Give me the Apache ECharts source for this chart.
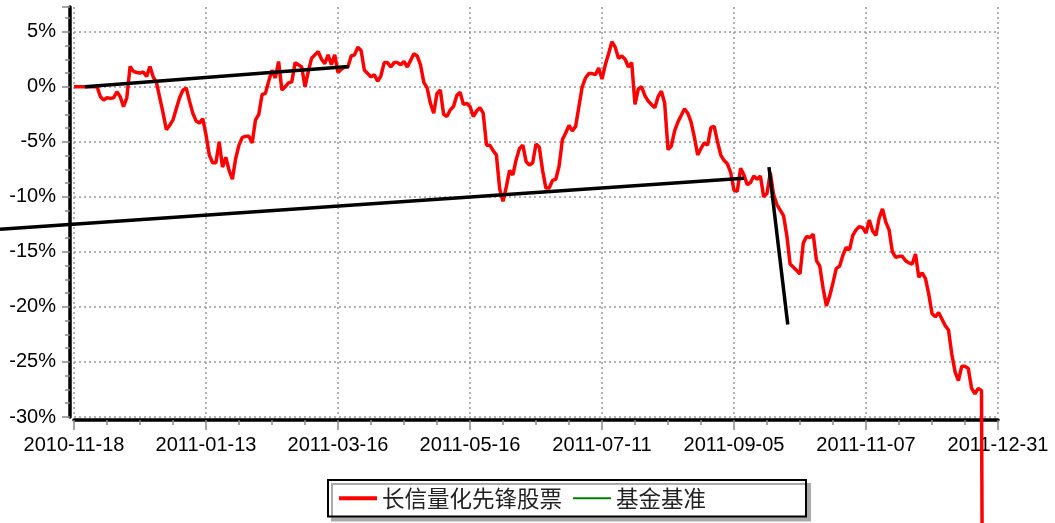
<!DOCTYPE html>
<html>
<head>
<meta charset="utf-8">
<script src="https://cdn.jsdelivr.net/npm/echarts@6/dist/echarts.min.js"></script>
<style>
  html, body { margin: 0; padding: 0; background: #fff; }
  #chart { width: 1055px; height: 523px; }
</style>
</head>
<body>
<div id="chart"></div>
<script>
// 横轴刻度（每 40 个交易日一个）
const tickStep = 40
const tickLabels = ['2010-11-18', '2011-01-13', '2011-03-16', '2011-05-16', '2011-07-11', '2011-09-05', '2011-11-07', '2011-12-31']

// 长信量化先锋股票 累计收益率（%），按交易日序号
const fundReturn = [
  0, 0, 0, 0, 0, 0, 0, 0, -0.9, -1.2,
  -1.0, -1.05, -1.0, -0.45, -0.9, -1.8, -1.0, 1.85, 1.4, 1.3,
  1.25, 1.35, 0.95, 1.85, 0.9, 0.35, -1.0, -2.4, -3.9, -3.5,
  -3.0, -2.0, -1.0, -0.3, -0.1, -1.3, -2.4, -3.1, -3.3, -2.9,
  -4.35, -6.2, -6.9, -6.9, -5.0, -7.3, -6.4, -7.6, -8.4, -6.5,
  -5.3, -4.6, -4.5, -4.5, -5.1, -3.0, -2.5, -0.7, -0.6, 0.5,
  1.5, 0.8, 2.3, -0.3, 0.0, 0.35, 0.45, 2.2, 2.0, 1.8,
  0.0, 1.4, 2.6, 2.9, 3.2, 2.5, 2.1, 2.9, 2.0, 2.9,
  1.3, 1.6, 1.8, 1.8, 2.8, 2.9, 3.6, 3.3, 1.5, 1.2,
  0.9, 1.1, 0.5, 1.0, 2.2, 2.2, 1.8, 2.2, 2.2, 2.0,
  2.3, 1.8, 2.4, 3.0, 2.8, 2.0, 0.4, -0.1, -1.5, -2.4,
  -0.6, -0.3, -2.5, -2.7, -2.1, -1.8, -0.8, -0.5, -1.6, -1.5,
  -1.8, -2.7, -2.2, -1.9, -2.4, -5.3, -5.3, -5.8, -6.2, -9.3,
  -10.4, -9.1, -7.6, -8.0, -6.6, -5.6, -5.3, -6.8, -7.1, -6.9,
  -5.2, -5.5, -7.6, -9.2, -9.2, -8.5, -8.4, -7.2, -4.8, -4.2,
  -3.5, -4.0, -3.6, -1.8, 0.0, 0.8, 1.2, 1.2, 1.1, 1.7,
  0.7, 2.0, 3.0, 4.1, 3.6, 2.6, 2.8, 2.5, 1.8, 2.2,
  -1.6, -0.2, 0.0, -0.8, -1.3, -1.6, -1.9, -0.9, -0.4, -1.5,
  -5.7, -5.4, -4.0, -3.2, -2.6, -2.0, -2.4, -3.2, -4.6, -6.2,
  -5.6, -5.1, -5.3, -3.7, -3.6, -5.0, -6.2, -6.7, -7.0, -7.8,
  -9.4, -9.5, -7.4, -8.0, -8.9, -8.7, -8.1, -8.4, -8.1, -10.0,
  -9.7, -7.8, -9.8, -10.7, -11.2, -11.7, -13.5, -16.1, -16.4, -16.7,
  -17.0, -14.2, -13.6, -13.7, -13.4, -15.8, -16.3, -18.3, -19.9, -19.0,
  -17.8, -16.5, -16.3, -15.3, -14.6, -14.8, -13.5, -13.0, -12.7, -12.8,
  -13.3, -12.1, -13.1, -13.5, -11.9, -11.1, -12.3, -13.0, -15.0, -15.5,
  -15.4, -15.4, -15.8, -16.0, -16.1, -15.2, -17.3, -16.9, -17.4, -18.8,
  -20.6, -20.9, -20.5, -21.1, -21.7, -22.1, -24.3, -25.9, -26.7, -25.4,
  -25.4, -25.6, -27.4, -27.9, -27.4, -27.6, -100, -100, -100, -100,
  -100
]

// 基金基准：图中没有画出数据，只在图例里出现
const benchmarkReturn = []

// 手绘的三条黑色趋势线 [序号, 收益率]，下面那条从坐标轴左边开始
const trendUpper = [[3.3, 0], [83.3, 1.85]]
const trendLower = [[-22.4, -12.95], [203, -8.3]]
const trendBreak = [[210.6, -7.3], [216.3, -21.6]]

let chart = echarts.init(document.getElementById('chart'))

const yMin = -30
const yMax = 7.25

// 趋势线放在第二套坐标上（左边延伸到画布边缘，比例和主坐标相同）
const trendStyle = {
  type: 'line',
  symbol: 'none',
  clip: false,
  silent: true,
  xAxisIndex: 1,
  yAxisIndex: 1,
  z: 5,
  lineStyle: { color: '#000', width: 3.5 }
}

const gridLine = { color: '#999', type: [2, 3], width: 1.5 }
const tickLine = { color: '#888', width: 1.5 }

chart.setOption({
  animation: false,
  textStyle: { fontFamily: 'Liberation Sans, Arial, sans-serif' },
  grid: [{
    left: 74,
    right: 57,
    top: 7,
    bottom: 106
  }, {
    left: 0,
    right: 57,
    top: 7,
    bottom: 106
  }],
  legend: {
    left: 328,
    top: 480,
    padding: [7, 100, 7, 9],
    itemWidth: 38,
    itemHeight: 14,
    itemGap: 10,
    backgroundColor: '#fff',
    borderColor: '#000',
    borderWidth: 2,
    borderRadius: 0,
    shadowColor: '#aaa',
    shadowBlur: 0,
    shadowOffsetX: 4,
    shadowOffsetY: 4,
    textStyle: {
      fontSize: 22.5,
      color: '#222',
      fontFamily: 'Noto Sans CJK SC'
    },
    data: [
      { name: '长信量化先锋股票', itemStyle: { opacity: 0 }, lineStyle: { width: 4 } },
      { name: '基金基准', itemStyle: { opacity: 0 }, lineStyle: { width: 2 } }
    ]
  },
  xAxis: [{
    type: 'value',
    gridIndex: 0,
    min: 0,
    max: tickStep * (tickLabels.length - 1),
    interval: tickStep,
    offset: 3,
    axisLine: { onZero: false, lineStyle: { color: '#000', width: 3.5 } },
    axisTick: { show: true, length: 10, lineStyle: tickLine },
    minorTick: { show: true, splitNumber: 4, length: 5, lineStyle: tickLine },
    axisLabel: {
      margin: 15,
      fontSize: 20,
      color: '#000',
      formatter: function (v) {
        return tickLabels[Math.round(v / tickStep)]
      }
    },
    splitLine: { show: true, lineStyle: gridLine }
  }, {
    type: 'value',
    gridIndex: 1,
    min: -22.4,
    max: tickStep * (tickLabels.length - 1),
    show: false
  }],
  yAxis: [{
    type: 'value',
    gridIndex: 0,
    min: yMin,
    max: yMax,
    interval: 5,
    offset: 4,
    axisLine: { show: true, onZero: false, lineStyle: { color: '#000', width: 3.5 } },
    axisTick: { show: true, length: 8, lineStyle: tickLine },
    minorTick: { show: true, splitNumber: 4, length: 5, lineStyle: tickLine },
    axisLabel: {
      margin: 14,
      fontSize: 20,
      color: '#000',
      showMaxLabel: false,
      formatter: function (v) {
        return v % 5 === 0 ? v + '%' : ''
      }
    },
    splitLine: { show: true, showMaxLine: false, lineStyle: gridLine }
  }, {
    type: 'value',
    gridIndex: 1,
    min: yMin,
    max: yMax,
    show: false
  }],
  series: [{
    name: '长信量化先锋股票',
    type: 'line',
    symbol: 'none',
    clip: false,
    z: 4,
    color: '#ff0000',
    lineStyle: { color: '#ff0000', width: 3.5 },
    data: fundReturn.map(function (v, i) { return [i, v] })
  }, {
    name: '基金基准',
    type: 'line',
    symbol: 'none',
    color: '#008000',
    lineStyle: { color: '#008000', width: 2 },
    data: benchmarkReturn
  },
  Object.assign({ name: 'trendUpper', data: trendUpper }, trendStyle),
  Object.assign({ name: 'trendLower', data: trendLower }, trendStyle),
  Object.assign({ name: 'trendBreak', data: trendBreak }, trendStyle)
  ]
})
</script>
</body>
</html>
